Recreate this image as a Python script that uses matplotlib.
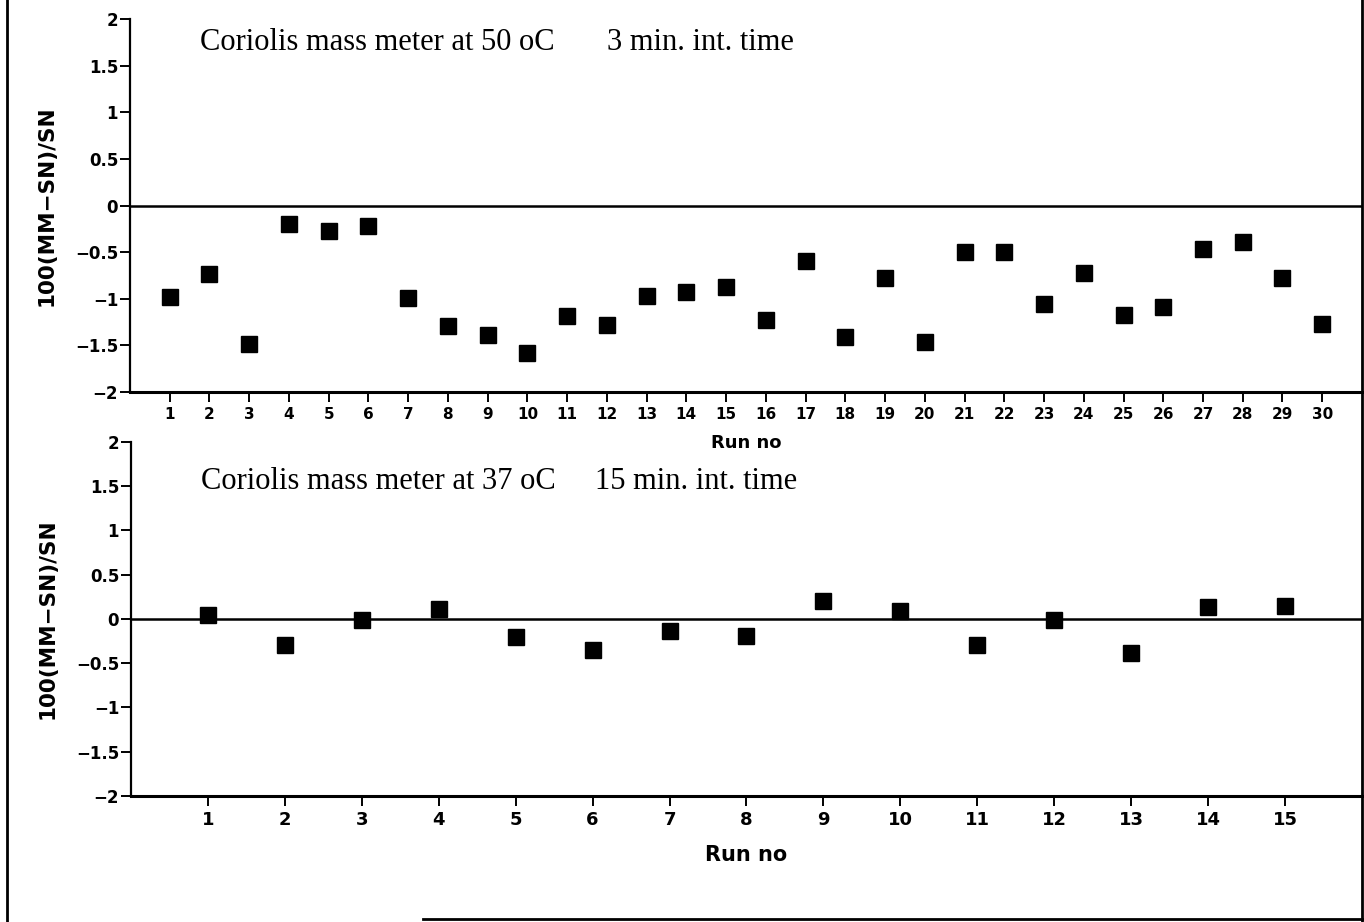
import matplotlib.pyplot as plt
from matplotlib.lines import Line2D

# Run numbers and deviations
runs_50 = list(range(1, 31))
dev_50 = [-0.98, -0.73, -1.49, -0.20, -0.27, -0.22, -0.99, -1.29, -1.39, -1.58,
          -1.19, -1.28, -0.97, -0.93, -0.87, -1.23, -0.60, -1.41, -0.78, -1.46,
          -0.50, -0.50, -1.06, -0.72, -1.17, -1.09, -0.47, -0.39, -0.78, -1.27]

runs_37 = list(range(1, 16))
dev_37 = [0.05, -0.29, -0.01, 0.11, -0.20, -0.35, -0.14, -0.19, 0.20, 0.09,
          -0.29, -0.01, -0.38, 0.13, 0.15]

y_ticks = [-2, -1.5, -1, -0.5, 0, 0.5, 1, 1.5, 2]
y_labels = ["\u22122", "\u22121.5", "\u22121", "\u22120.5", "0", "0.5", "1", "1.5", "2"]

title_50 = ("Coriolis mass meter at 50 oC", "3 min. int. time")
title_37 = ("Coriolis mass meter at 37 oC", "15 min. int. time")

fig = plt.figure(figsize=(13.64, 9.22), dpi=100)
ax1 = fig.add_axes([0.0953, 0.5748, 0.9032, 0.4046])
ax2 = fig.add_axes([0.0960, 0.1367, 0.9025, 0.3839])
ax2.patch.set_alpha(0)

def style(ax, runs, vals, xmax, titles, tx2, ty, xfs, xlfs, xpad):
    ax.plot(runs, vals, "s", color="black", markersize=11.5, linestyle="none")
    ax.axhline(0, color="black", lw=1.8)
    ax.set_xlim(0, xmax)
    ax.set_ylim(-2, 2)
    ax.set_xticks(runs)
    ax.set_xticklabels([str(r) for r in runs], fontsize=xfs, fontweight="bold")
    ax.set_yticks(y_ticks)
    ax.set_yticklabels(y_labels, fontsize=12, fontweight="bold")
    for s in ["top", "right"]:
        ax.spines[s].set_visible(False)
    ax.spines["left"].set_linewidth(1.6)
    ax.spines["bottom"].set_linewidth(2.2)
    ax.tick_params(axis="y", length=7, width=1.4, pad=1.5)
    ax.tick_params(axis="x", length=7, width=1.4, pad=3.5)
    ax.set_xlabel("Run no", fontsize=xlfs, fontweight="bold", labelpad=xpad)
    ax.set_ylabel("100(MM\u2212SN)/SN", fontsize=15.5, fontweight="bold", va="center")
    ax.yaxis.set_label_coords(-0.0674, 0.5)
    ax.text(0.057, ty, titles[0], transform=ax.transAxes, family="Liberation Serif",
            fontsize=22, ha="left", va="center")
    ax.text(tx2, ty, titles[1], transform=ax.transAxes, family="Liberation Serif",
            fontsize=22, ha="left", va="center")

style(ax1, runs_50, dev_50, 31, title_50, 0.387, 0.936, 11, 13, 9)
style(ax2, runs_37, dev_37, 16, title_37, 0.377, 0.888, 13, 15, 12)

# page frame
fig.add_artist(Line2D([0.005, 0.005], [0, 1], color="black", lw=2))
fig.add_artist(Line2D([0.9985, 0.9985], [0, 1], color="black", lw=2))
fig.add_artist(Line2D([0.31, 0.9985], [0.003, 0.003], color="black", lw=2))

fig.savefig("out.png", dpi=100)
